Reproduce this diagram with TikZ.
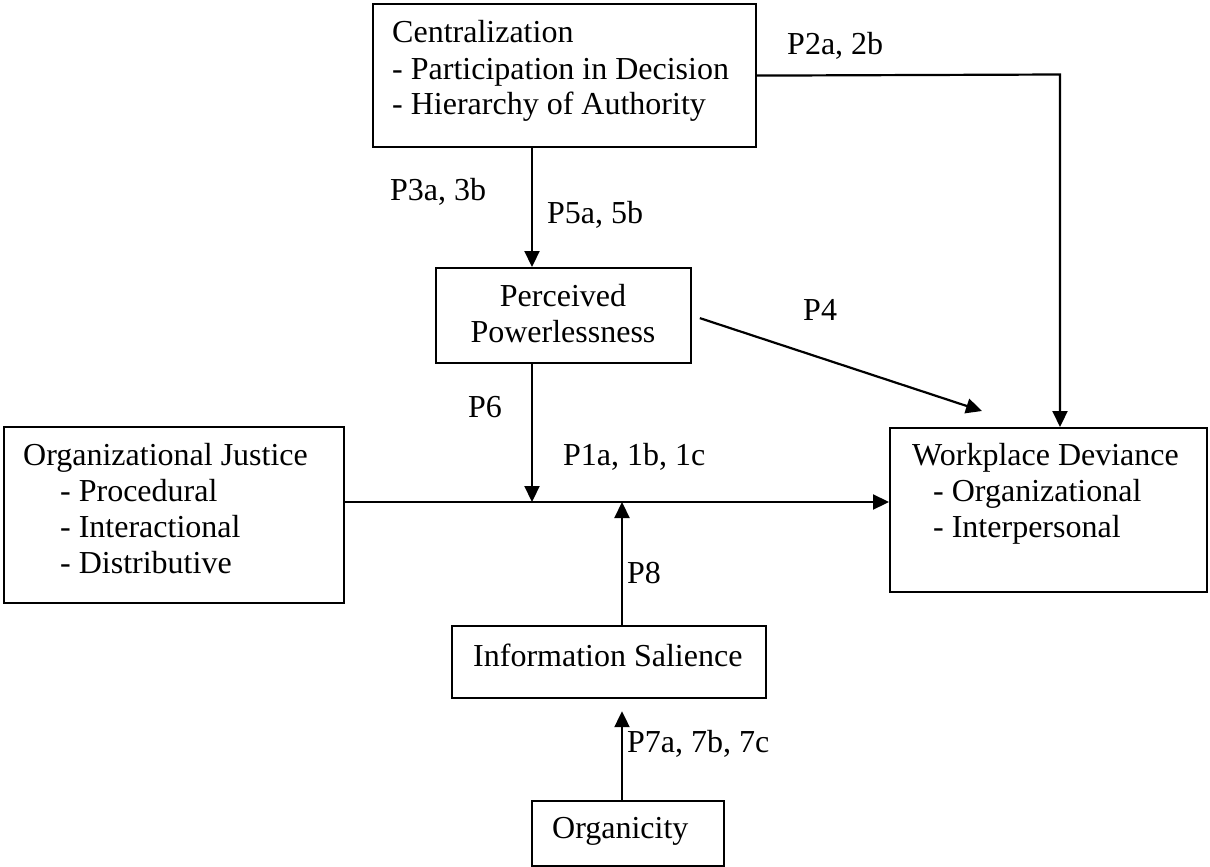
\documentclass[tikz,border=0pt]{standalone}
\usepackage{fontspec}
\setmainfont{Liberation Serif}
\usetikzlibrary{arrows.meta}
\begin{document}
\begin{tikzpicture}[x=1pt,y=-1pt,
  font=\fontsize{32}{36}\selectfont,
  box/.style={draw,line width=2.2pt,rectangle,inner sep=0pt,anchor=north west},
  txt/.style={inner sep=0pt,anchor=base west},
  lbl/.style={inner sep=0pt,anchor=base west},
  arr/.style={line width=2.2pt,-{Triangle[length=16pt,width=15pt]}}]
\useasboundingbox (0,0) rectangle (1210,867);
% boxes
\node[box,minimum width=383pt,minimum height=143pt] (cent) at (372,3) {};
\node[box,minimum width=255pt,minimum height=95pt] (pp) at (435,267) {};
\node[box,minimum width=340pt,minimum height=176pt] (oj) at (3,426) {};
\node[box,minimum width=317pt,minimum height=164pt] (wd) at (889,427) {};
\node[box,minimum width=314pt,minimum height=72pt] (is) at (451,625) {};
\node[box,minimum width=192pt,minimum height=65pt] (org) at (531,800) {};
% box texts
\node[txt] (centt) at (392,43) {\begin{tabular}[t]{@{}l@{}}Centralization\\- Participation in Decision\\- Hierarchy of Authority\end{tabular}};
\node[txt,anchor=base] (ppt) at (563,306) {\begin{tabular}[t]{@{}c@{}}Perceived\\Powerlessness\end{tabular}};
\node[txt] (ojt) at (23,465) {\begin{tabular}[t]{@{}l@{}}Organizational Justice\\\hspace*{37pt}- Procedural\\\hspace*{37pt}- Interactional\\\hspace*{37pt}- Distributive\end{tabular}};
\node[txt] (wdt) at (912,465) {\begin{tabular}[t]{@{}l@{}}Workplace Deviance\\\hspace*{21pt}- Organizational\\\hspace*{21pt}- Interpersonal\end{tabular}};
\node[txt] (ist) at (473,666) {Information Salience};
\node[txt] (orgt) at (552,838) {Organicity};
% labels
\node[lbl] (l2) at (787,55) {P2a, 2b};
\node[lbl] (l3) at (390,200) {P3a, 3b};
\node[lbl] (l5) at (547,223) {P5a, 5b};
\node[lbl] (l4) at (803,320) {P4};
\node[lbl] (l6) at (468,417) {P6};
\node[lbl] (l1) at (563,465) {P1a, 1b, 1c};
\node[lbl] (l8) at (627,583) {P8};
\node[lbl] (l7) at (627,752) {P7a, 7b, 7c};
% helper coordinates
\coordinate (j1) at (532,502);
\coordinate (j2) at (622,502);
\coordinate (p2c) at (1060,74.5);
\coordinate (p4e) at (982,411);
% connectors
\draw[arr] (cent.south -| j1) -- (pp.north -| j1);
\draw[arr] (pp.south -| j1) -- (j1);
\draw[arr] (oj.east |- j1) -- (wd.west |- j1);
\draw[arr] (is.north -| j2) -- (j2);
\draw[arr,shorten >=12pt] (org.north -| j2) -- (is.south -| j2);
\draw[arr] (cent.east) -- (p2c) -- (p2c |- wd.north);
\draw[arr,shorten <=8pt] (pp.east) -- (p4e);
\end{tikzpicture}
\end{document}
